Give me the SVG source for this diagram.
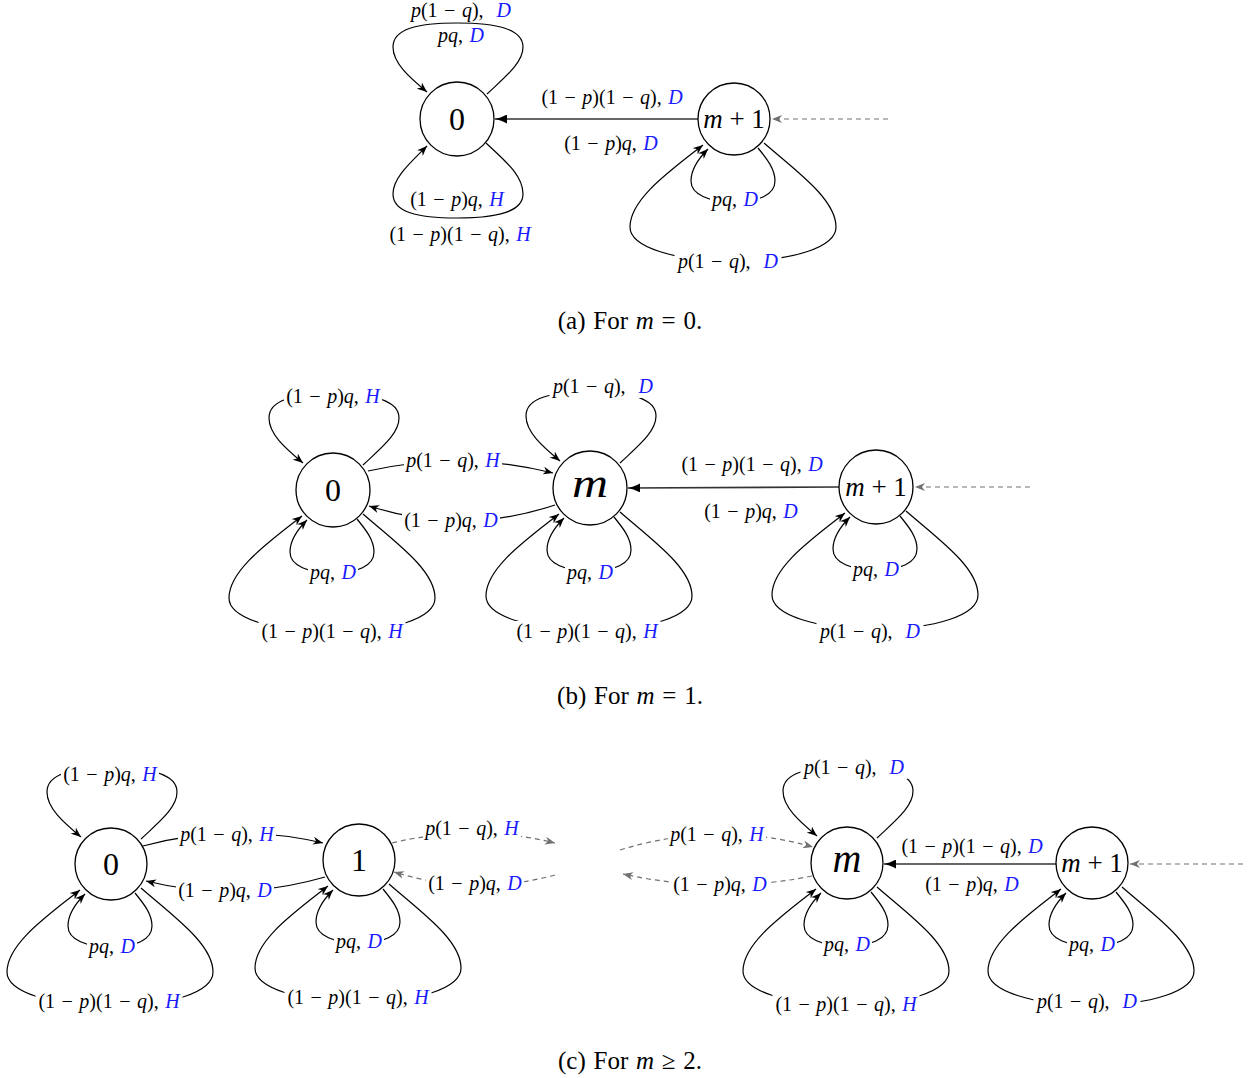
<svg xmlns="http://www.w3.org/2000/svg" width="1253" height="1078" viewBox="0 0 1253 1078">
<style>
.lbl{font-family:"Liberation Serif","Times New Roman",serif;font-size:20px;word-spacing:1.5px;text-anchor:middle;fill:#000}
.v{font-style:italic}
.b{font-style:italic;fill:#1a1aff}
.bg{fill:#fff;stroke:none}
.e{fill:none;stroke:#000;stroke-width:1.2;marker-end:url(#st)}
.dg{fill:none;stroke:#707070;stroke-width:1.2;stroke-dasharray:5 4;marker-end:url(#sg)}
.main{fill:none;stroke:#333;stroke-width:1.6;marker-end:url(#lx)}
.nd{fill:#fff;stroke:#000;stroke-width:1.3}
.nt{font-family:"Liberation Serif","Times New Roman",serif;text-anchor:middle;fill:#000}
.cap{font-family:"Liberation Serif","Times New Roman",serif;font-size:25px;word-spacing:1.5px;text-anchor:middle;fill:#000}
</style>
<defs>
<marker id="st" viewBox="0 0 10 8" refX="10" refY="4" markerWidth="10" markerHeight="8" markerUnits="userSpaceOnUse" orient="auto"><path d="M0,0 L10,4 L0,8 L3,4 z" fill="#000" stroke="none"/></marker>
<marker id="sg" viewBox="0 0 10 8" refX="10" refY="4" markerWidth="10" markerHeight="8" markerUnits="userSpaceOnUse" orient="auto"><path d="M0,0 L10,4 L0,8 L3,4 z" fill="#707070" stroke="none"/></marker>
<marker id="lx" viewBox="0 0 12 9" refX="12" refY="4.5" markerWidth="12" markerHeight="9" markerUnits="userSpaceOnUse" orient="auto"><path d="M0,0 C4,2 8,3.8 12,4.5 C8,5.2 4,7 0,9 z" fill="#000" stroke="none"/></marker>
</defs>
<rect width="1253" height="1078" fill="#fff"/>

<g id="connectors">
<!-- (a) -->
<path class="e" d="M487,94 c 18,-17 36,-31 36,-47 c 0,-18 -26,-24 -66,-24 c -40,0 -64,6 -64,24 c 0,16 16,30 34,45"/>
<path class="e" d="M486,143 c 18,17 37,32 37,51 c 0,18 -26,24 -66,24 c -40,0 -64,-6 -64,-24 c 0,-16 16,-30 34,-48"/>
<path class="e" d="M758,148 c 9,11 17,21 17,33 c 0,14 -17,21 -41,21 c -24,0 -43,-7 -43,-21 c 0,-12 7,-22 17,-32"/>
<path class="e" d="M764,143 c 32,28 72,56 72,84 c 0,20 -42,34 -102,34 c -60,0 -104,-14 -104,-34 c 0,-28 40,-56 73,-82"/>
<path class="main" d="M698,119 L495,119"/>
<path class="dg" d="M888,119 L772,119"/>
<!-- (b) -->
<path class="e" d="M363,465 c 18,-17 36,-31 36,-47 c 0,-18 -26,-24 -66,-24 c -40,0 -64,6 -64,24 c 0,16 16,30 34,45"/>
<path class="e" d="M357,519 c 9,11 17,21 17,33 c 0,14 -17,21 -41,21 c -24,0 -43,-7 -43,-21 c 0,-12 7,-22 17,-32"/>
<path class="e" d="M363,514 c 32,28 72,56 72,84 c 0,20 -42,34 -102,34 c -60,0 -104,-14 -104,-34 c 0,-28 40,-56 73,-82"/>
<path class="e" d="M368,471 Q461,450 553,473"/>
<path class="e" d="M555,505 Q462,536 369,506"/>
<path class="e" d="M620,463 c 18,-17 36,-31 36,-47 c 0,-18 -26,-24 -66,-24 c -40,0 -64,6 -64,24 c 0,16 16,30 34,45"/>
<path class="e" d="M614,517 c 9,11 17,21 17,33 c 0,14 -17,21 -41,21 c -24,0 -43,-7 -43,-21 c 0,-12 7,-22 17,-32"/>
<path class="e" d="M620,512 c 32,28 72,56 72,84 c 0,20 -42,34 -102,34 c -60,0 -104,-14 -104,-34 c 0,-28 40,-56 73,-82"/>
<path class="e" d="M900,516 c 9,11 17,21 17,33 c 0,14 -17,21 -41,21 c -24,0 -43,-7 -43,-21 c 0,-12 7,-22 17,-32"/>
<path class="e" d="M906,511 c 32,28 72,56 72,84 c 0,20 -42,34 -102,34 c -60,0 -104,-14 -104,-34 c 0,-28 40,-56 73,-82"/>
<path class="main" d="M839,487 L628,488"/>
<path class="dg" d="M1030,487 L915,487"/>
<!-- (c) -->
<path class="e" d="M141,839 c 18,-17 36,-31 36,-47 c 0,-18 -26,-24 -66,-24 c -40,0 -64,6 -64,24 c 0,16 16,30 34,45"/>
<path class="e" d="M135,893 c 9,11 17,21 17,33 c 0,14 -17,21 -41,21 c -24,0 -43,-7 -43,-21 c 0,-12 7,-22 17,-32"/>
<path class="e" d="M141,888 c 32,28 72,56 72,84 c 0,20 -42,34 -102,34 c -60,0 -104,-14 -104,-34 c 0,-28 40,-56 73,-82"/>
<path class="e" d="M383,889 c 9,11 17,21 17,33 c 0,14 -17,21 -41,21 c -24,0 -43,-7 -43,-21 c 0,-12 7,-22 17,-32"/>
<path class="e" d="M389,884 c 32,28 72,56 72,84 c 0,20 -42,34 -102,34 c -60,0 -104,-14 -104,-34 c 0,-28 40,-56 73,-82"/>
<path class="e" d="M143,846 Q233,822 323,843"/>
<path class="e" d="M325,877 Q235,903 146,881"/>
<path class="dg" d="M392,843 Q474,823 555,843"/>
<path class="dg" d="M555,875 Q474,897 394,872"/>
<path class="dg" d="M620,850 Q717,820 813,847"/>
<path class="dg" d="M812,876 Q718,895 623,874"/>
<path class="e" d="M877,838 c 18,-17 36,-31 36,-47 c 0,-18 -26,-24 -66,-24 c -40,0 -64,6 -64,24 c 0,16 16,30 34,45"/>
<path class="e" d="M871,892 c 9,11 17,21 17,33 c 0,14 -17,21 -41,21 c -24,0 -43,-7 -43,-21 c 0,-12 7,-22 17,-32"/>
<path class="e" d="M877,887 c 32,28 72,56 72,84 c 0,20 -42,34 -102,34 c -60,0 -104,-14 -104,-34 c 0,-28 40,-56 73,-82"/>
<path class="e" d="M1116,892 c 9,11 17,21 17,33 c 0,14 -17,21 -41,21 c -24,0 -43,-7 -43,-21 c 0,-12 7,-22 17,-32"/>
<path class="e" d="M1122,887 c 32,28 72,56 72,84 c 0,20 -42,34 -102,34 c -60,0 -104,-14 -104,-34 c 0,-28 40,-56 73,-82"/>
<path class="main" d="M1057,864 L884,864"/>
<path class="dg" d="M1243,864 L1130,864"/>
</g>

<g id="edge-labels">
<!-- (a) -->
<text class="lbl" x="461" y="17"><tspan class="v">p</tspan>(1 − <tspan class="v">q</tspan>),&#160; <tspan class="b">D</tspan></text>
<text class="lbl" x="461" y="42"><tspan class="v">pq</tspan>, <tspan class="b">D</tspan></text>
<text class="lbl" x="457" y="206">(1 − <tspan class="v">p</tspan>)<tspan class="v">q</tspan>, <tspan class="b">H</tspan></text>
<text class="lbl" x="460" y="241">(1 − <tspan class="v">p</tspan>)(1 − <tspan class="v">q</tspan>), <tspan class="b">H</tspan></text>
<text class="lbl" x="612" y="104">(1 − <tspan class="v">p</tspan>)(1 − <tspan class="v">q</tspan>), <tspan class="b">D</tspan></text>
<text class="lbl" x="611" y="150">(1 − <tspan class="v">p</tspan>)<tspan class="v">q</tspan>, <tspan class="b">D</tspan></text>
<rect class="bg" x="710" y="189" width="50" height="22"/>
<text class="lbl" x="735" y="206"><tspan class="v">pq</tspan>, <tspan class="b">D</tspan></text>
<rect class="bg" x="674.5" y="251" width="107" height="22"/>
<text class="lbl" x="728" y="268"><tspan class="v">p</tspan>(1 − <tspan class="v">q</tspan>),&#160; <tspan class="b">D</tspan></text>
<!-- (b) -->
<rect class="bg" x="284" y="386" width="98" height="22"/>
<text class="lbl" x="333" y="403">(1 − <tspan class="v">p</tspan>)<tspan class="v">q</tspan>, <tspan class="b">H</tspan></text>
<rect class="bg" x="549.5" y="376" width="107" height="22"/>
<text class="lbl" x="603" y="393"><tspan class="v">p</tspan>(1 − <tspan class="v">q</tspan>),&#160; <tspan class="b">D</tspan></text>
<rect class="bg" x="404" y="450" width="98" height="22"/>
<text class="lbl" x="453" y="467"><tspan class="v">p</tspan>(1 − <tspan class="v">q</tspan>), <tspan class="b">H</tspan></text>
<rect class="bg" x="402" y="510" width="98" height="22"/>
<text class="lbl" x="451" y="527">(1 − <tspan class="v">p</tspan>)<tspan class="v">q</tspan>, <tspan class="b">D</tspan></text>
<rect class="bg" x="308" y="562" width="50" height="22"/>
<text class="lbl" x="333" y="579"><tspan class="v">pq</tspan>, <tspan class="b">D</tspan></text>
<rect class="bg" x="258.5" y="621" width="147" height="22"/>
<text class="lbl" x="332" y="638">(1 − <tspan class="v">p</tspan>)(1 − <tspan class="v">q</tspan>), <tspan class="b">H</tspan></text>
<rect class="bg" x="565" y="562" width="50" height="22"/>
<text class="lbl" x="590" y="579"><tspan class="v">pq</tspan>, <tspan class="b">D</tspan></text>
<rect class="bg" x="513.5" y="621" width="147" height="22"/>
<text class="lbl" x="587" y="638">(1 − <tspan class="v">p</tspan>)(1 − <tspan class="v">q</tspan>), <tspan class="b">H</tspan></text>
<rect class="bg" x="851" y="559" width="50" height="22"/>
<text class="lbl" x="876" y="576"><tspan class="v">pq</tspan>, <tspan class="b">D</tspan></text>
<rect class="bg" x="816.5" y="621" width="107" height="22"/>
<text class="lbl" x="870" y="638"><tspan class="v">p</tspan>(1 − <tspan class="v">q</tspan>),&#160; <tspan class="b">D</tspan></text>
<text class="lbl" x="752" y="471">(1 − <tspan class="v">p</tspan>)(1 − <tspan class="v">q</tspan>), <tspan class="b">D</tspan></text>
<text class="lbl" x="751" y="518">(1 − <tspan class="v">p</tspan>)<tspan class="v">q</tspan>, <tspan class="b">D</tspan></text>
<!-- (c) -->
<rect class="bg" x="61" y="764" width="98" height="22"/>
<text class="lbl" x="110" y="781">(1 − <tspan class="v">p</tspan>)<tspan class="v">q</tspan>, <tspan class="b">H</tspan></text>
<rect class="bg" x="178" y="824" width="98" height="22"/>
<text class="lbl" x="227" y="841"><tspan class="v">p</tspan>(1 − <tspan class="v">q</tspan>), <tspan class="b">H</tspan></text>
<rect class="bg" x="176" y="880" width="98" height="22"/>
<text class="lbl" x="225" y="897">(1 − <tspan class="v">p</tspan>)<tspan class="v">q</tspan>, <tspan class="b">D</tspan></text>
<rect class="bg" x="423" y="818" width="98" height="22"/>
<text class="lbl" x="472" y="835"><tspan class="v">p</tspan>(1 − <tspan class="v">q</tspan>), <tspan class="b">H</tspan></text>
<rect class="bg" x="426" y="873" width="98" height="22"/>
<text class="lbl" x="475" y="890">(1 − <tspan class="v">p</tspan>)<tspan class="v">q</tspan>, <tspan class="b">D</tspan></text>
<rect class="bg" x="668" y="824" width="98" height="22"/>
<text class="lbl" x="717" y="841"><tspan class="v">p</tspan>(1 − <tspan class="v">q</tspan>), <tspan class="b">H</tspan></text>
<rect class="bg" x="671" y="874" width="98" height="22"/>
<text class="lbl" x="720" y="891">(1 − <tspan class="v">p</tspan>)<tspan class="v">q</tspan>, <tspan class="b">D</tspan></text>
<rect class="bg" x="800.5" y="757" width="107" height="22"/>
<text class="lbl" x="854" y="774"><tspan class="v">p</tspan>(1 − <tspan class="v">q</tspan>),&#160; <tspan class="b">D</tspan></text>
<text class="lbl" x="972" y="853">(1 − <tspan class="v">p</tspan>)(1 − <tspan class="v">q</tspan>), <tspan class="b">D</tspan></text>
<text class="lbl" x="972" y="891">(1 − <tspan class="v">p</tspan>)<tspan class="v">q</tspan>, <tspan class="b">D</tspan></text>
<rect class="bg" x="87" y="936" width="50" height="22"/>
<text class="lbl" x="112" y="953"><tspan class="v">pq</tspan>, <tspan class="b">D</tspan></text>
<rect class="bg" x="35.5" y="991" width="147" height="22"/>
<text class="lbl" x="109" y="1008">(1 − <tspan class="v">p</tspan>)(1 − <tspan class="v">q</tspan>), <tspan class="b">H</tspan></text>
<rect class="bg" x="334" y="931" width="50" height="22"/>
<text class="lbl" x="359" y="948"><tspan class="v">pq</tspan>, <tspan class="b">D</tspan></text>
<rect class="bg" x="284.5" y="987" width="147" height="22"/>
<text class="lbl" x="358" y="1004">(1 − <tspan class="v">p</tspan>)(1 − <tspan class="v">q</tspan>), <tspan class="b">H</tspan></text>
<rect class="bg" x="822" y="934" width="50" height="22"/>
<text class="lbl" x="847" y="951"><tspan class="v">pq</tspan>, <tspan class="b">D</tspan></text>
<rect class="bg" x="772.5" y="994" width="147" height="22"/>
<text class="lbl" x="846" y="1011">(1 − <tspan class="v">p</tspan>)(1 − <tspan class="v">q</tspan>), <tspan class="b">H</tspan></text>
<rect class="bg" x="1067" y="934" width="50" height="22"/>
<text class="lbl" x="1092" y="951"><tspan class="v">pq</tspan>, <tspan class="b">D</tspan></text>
<rect class="bg" x="1033.5" y="991" width="107" height="22"/>
<text class="lbl" x="1087" y="1008"><tspan class="v">p</tspan>(1 − <tspan class="v">q</tspan>),&#160; <tspan class="b">D</tspan></text>
</g>

<g id="node-a0"><circle class="nd" cx="457" cy="119" r="37"/><text class="nt" x="457" y="130" font-size="32">0</text></g>
<g id="node-a-m1"><circle class="nd" cx="734" cy="119" r="36"/><text class="nt" x="734" y="128" font-size="27"><tspan class="v">m</tspan> + 1</text></g>

<g id="node-b0"><circle class="nd" cx="333" cy="490" r="37"/><text class="nt" x="333" y="501" font-size="32">0</text></g>
<g id="node-b-m"><circle class="nd" cx="590" cy="488" r="37"/><text class="nt" x="590" y="497" font-size="40" font-style="italic" textLength="36" lengthAdjust="spacingAndGlyphs">m</text></g>
<g id="node-b-m1"><circle class="nd" cx="876" cy="487" r="37"/><text class="nt" x="876" y="496" font-size="27"><tspan class="v">m</tspan> + 1</text></g>

<g id="node-c0"><circle class="nd" cx="111" cy="864" r="36"/><text class="nt" x="111" y="875" font-size="32">0</text></g>
<g id="node-c1"><circle class="nd" cx="359" cy="860" r="36"/><text class="nt" x="359" y="871" font-size="32">1</text></g>
<g id="node-c-m"><circle class="nd" cx="847" cy="863" r="36"/><text class="nt" x="847" y="872" font-size="40" font-style="italic">m</text></g>
<g id="node-c-m1"><circle class="nd" cx="1092" cy="863" r="36"/><text class="nt" x="1092" y="872" font-size="27"><tspan class="v">m</tspan> + 1</text></g>

<g id="captions">
<text class="cap" x="630" y="329">(a) For <tspan class="v">m</tspan> = 0.</text>
<text class="cap" x="630" y="704">(b) For <tspan class="v">m</tspan> = 1.</text>
<text class="cap" x="630" y="1069">(c) For <tspan class="v">m</tspan> ≥ 2.</text>
</g>
</svg>
